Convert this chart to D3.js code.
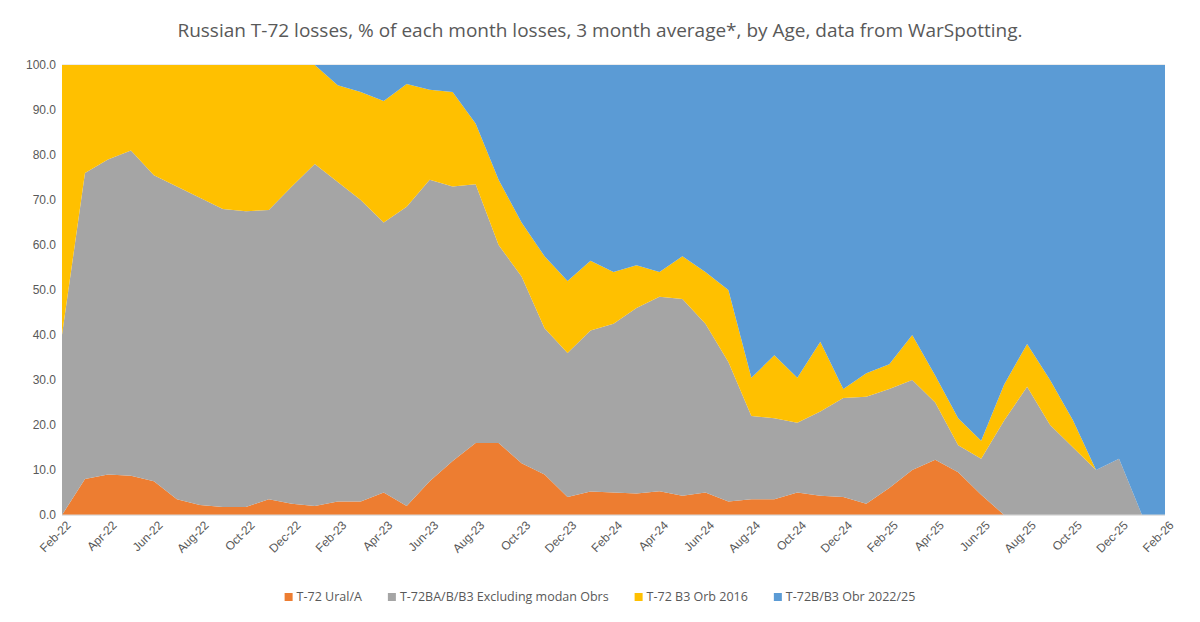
<!DOCTYPE html>
<html lang="en">
<head>
<meta charset="UTF-8">
<title>Russian T-72 losses by Age</title>
<script src="https://d3js.org/d3.v7.min.js"></script>
<style>
  body { margin: 0; background: #fff; font-family: "Open Sans", "Liberation Sans", sans-serif; }
  .grid line { stroke: #d9d9d9; }
  .axis text { fill: #595959; font-size: 12px; }
  .axis path, .axis line { stroke: none; }
</style>
</head>
<body>
<svg id="chart" width="1200" height="622"></svg>
<script>
// months Feb-22 .. Feb-26
const months = d3.range(49).map(i => d3.timeFormat("%b-%y")(new Date(2022, 1 + i, 1)));

// cumulative boundaries (% of month losses)
const uralTop = [0,8,9,8.7,7.5,3.5,2.2,1.8,1.8,3.5,2.5,2,3,3,5,2,7.5,12,16,16,11.5,9,4,5.2,5,4.8,5.3,4.3,5,3,3.5,3.5,5,4.3,4,2.5,6,10,12.3,9.5,4.5,0,0,0,0,0,0,0,0];
const greyTop = [40,76,79,81,75.5,73,70.5,68,67.5,67.8,73,78,74,70,65,68.5,74.5,73,73.5,60,53,41.5,36,41,42.5,46,48.5,48,42.5,34,22,21.5,20.5,23,26,26.3,28,30,25,15.5,12.5,21,28.5,20,15,10,12.5,0,0];
const yellowTop = [100,100,100,100,100,100,100,100,100,100,100,100,95.5,94,92,95.8,94.5,94,87,74.5,65,57.5,52,56.5,54,55.5,54,57.5,54,50,30.5,35.5,30.5,38.5,28,31.5,33.5,40,31,21.5,16.5,29,38,30,21,10,12.5,0,0];

const seriesNames = ["T-72 Ural/A", "T-72BA/B/B3 Excluding modan Obrs", "T-72 B3 Orb 2016", "T-72B/B3 Obr 2022/25"];
const colors = ["#ED7D31", "#A5A5A5", "#FFC000", "#5B9BD5"];

const rows = months.map((m, i) => ({
  i: i,
  s0: uralTop[i],
  s1: greyTop[i] - uralTop[i],
  s2: yellowTop[i] - greyTop[i],
  s3: 100 - yellowTop[i]
}));

const svg = d3.select("#chart");
const margin = { left: 62, right: 35, top: 65, bottom: 107 };
const W = 1200, H = 622;

const x = d3.scaleLinear().domain([0, 48]).range([margin.left, W - margin.right]);
const y = d3.scaleLinear().domain([0, 100]).range([H - margin.bottom, margin.top]);

svg.append("text").attr("x", W / 2).attr("y", 37).attr("text-anchor", "middle")
  .attr("fill", "#595959").style("font-size", "19px")
  .text("Russian T-72 losses, % of each month losses, 3 month average*, by Age, data from WarSpotting.");

svg.append("g").attr("class", "grid")
  .selectAll("line").data(d3.range(0, 101, 10)).join("line")
  .attr("x1", margin.left).attr("x2", W - margin.right)
  .attr("y1", d => y(d)).attr("y2", d => y(d));

const stack = d3.stack().keys(["s0", "s1", "s2", "s3"]);
const area = d3.area().x(d => x(d.data.i)).y0(d => y(d[0])).y1(d => y(d[1]));

svg.append("g").selectAll("path").data(stack(rows)).join("path")
  .attr("d", area).attr("fill", (d, k) => colors[k]);

svg.append("g").attr("class", "axis")
  .attr("transform", `translate(${margin.left},0)`)
  .call(d3.axisLeft(y).tickValues(d3.range(0, 101, 10)).tickFormat(d3.format(".1f")).tickSize(0).tickPadding(6));

svg.append("line").attr("x1", margin.left).attr("x2", W - margin.right)
  .attr("y1", y(0)).attr("y2", y(0)).attr("stroke", "#d9d9d9");

const xAxis = svg.append("g").attr("class", "axis")
  .attr("transform", `translate(0,${y(0)})`)
  .call(d3.axisBottom(x).tickValues(d3.range(0, 49, 2)).tickFormat(i => months[i]).tickSize(0));
xAxis.selectAll("text").attr("text-anchor", "end")
  .attr("transform", "translate(4,6) rotate(-45)").attr("dy", "0.35em");

// legend
const legend = svg.append("g").attr("transform", `translate(0,${H - 24})`);
const items = [];
let lx = 0;
seriesNames.forEach((n, k) => {
  const g = legend.append("g");
  g.append("rect").attr("x", lx).attr("y", -5).attr("width", 8).attr("height", 8).attr("fill", colors[k]);
  const t = g.append("text").attr("x", lx + 12).attr("y", 3).attr("fill", "#595959").style("font-size", "12.5px").text(n);
  lx += 12 + t.node().getComputedTextLength() + 26;
});
legend.attr("transform", `translate(${(W - lx + 26) / 2},${H - 24})`);
</script>
</body>
</html>
